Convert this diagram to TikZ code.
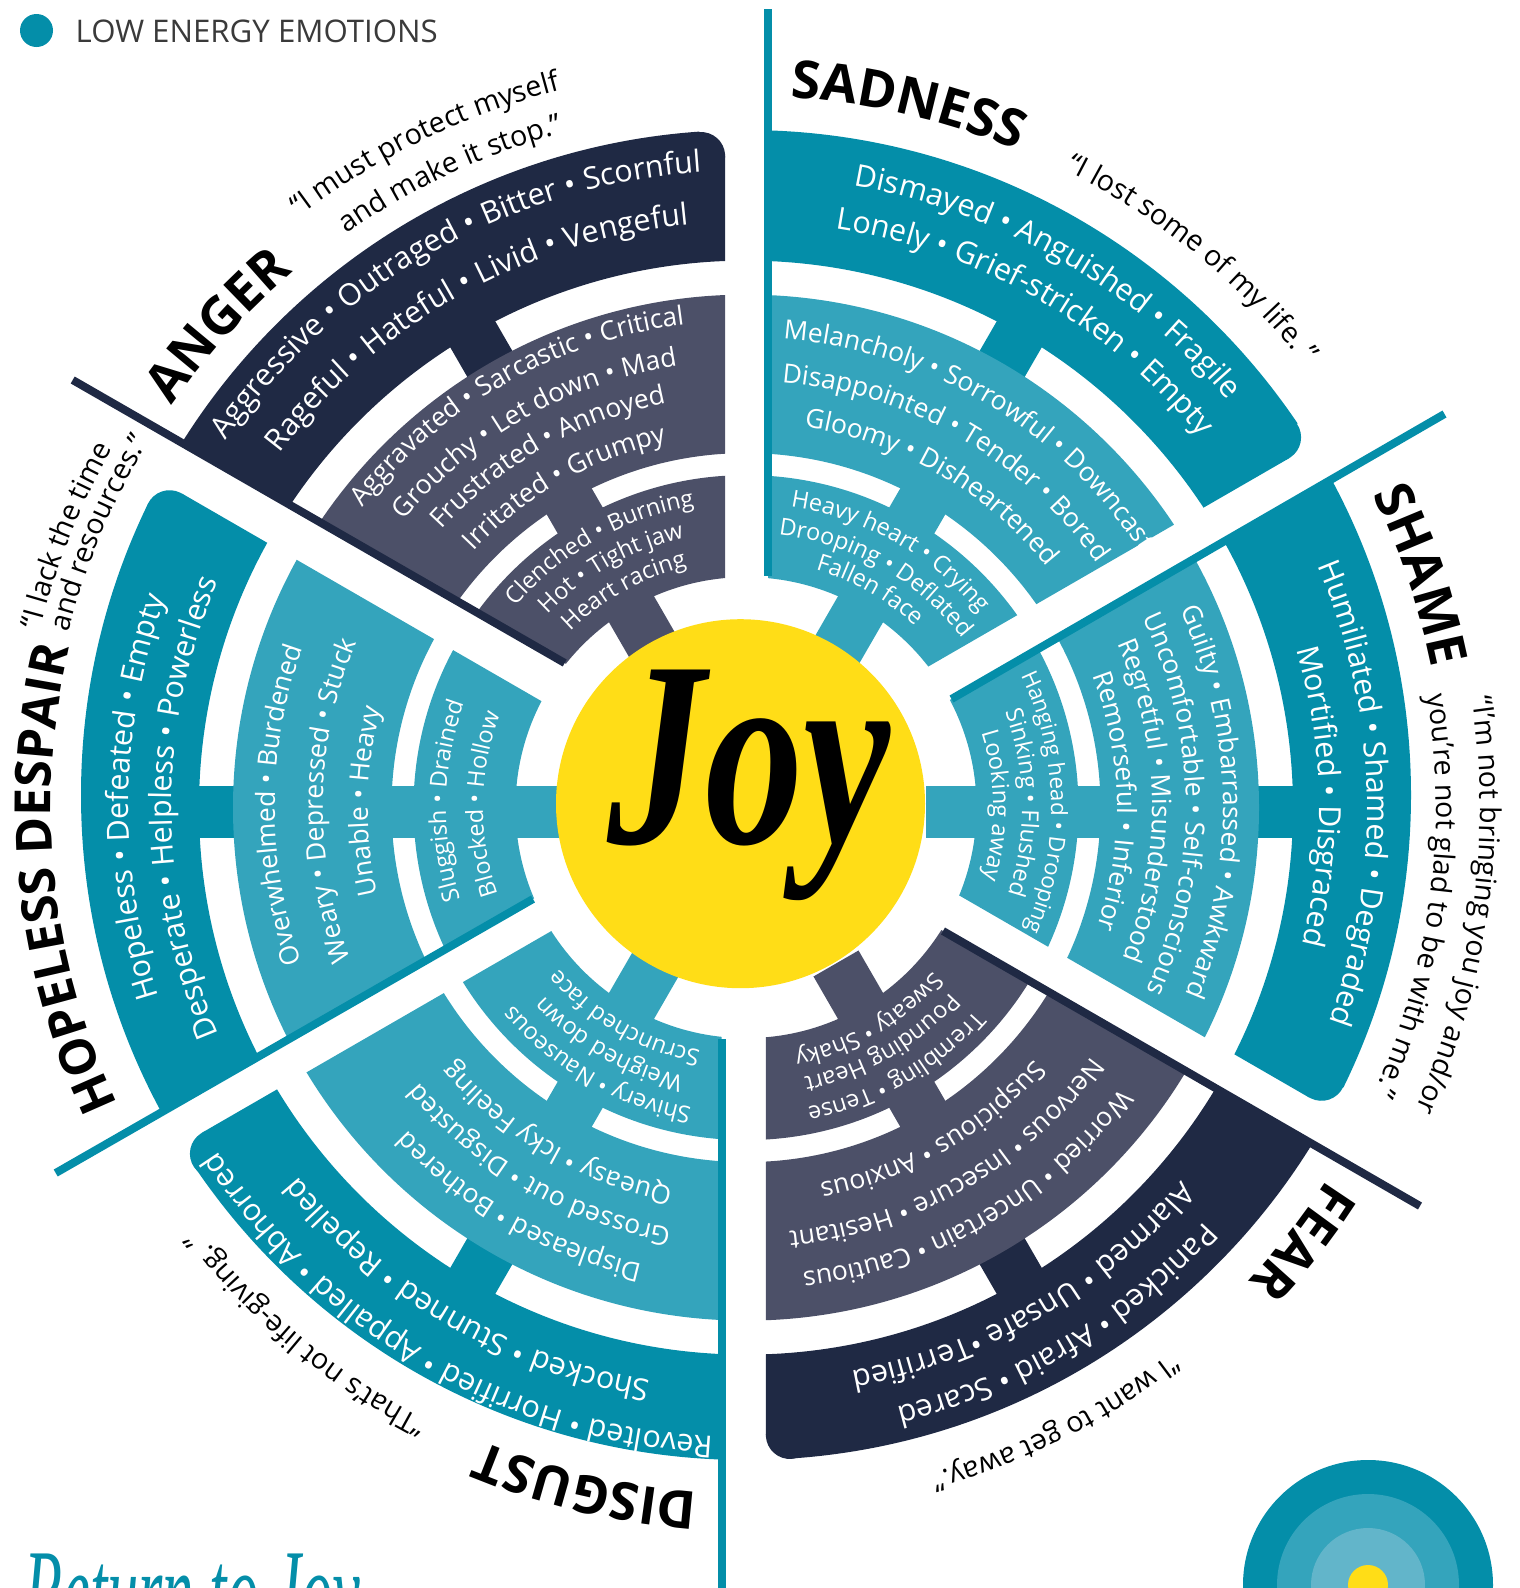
\documentclass[tikz,border=0pt]{standalone}
\usepackage{fontspec}
\setmainfont{Open Sans}
\newfontfamily\joyfont{Liberation Serif}
\usetikzlibrary{decorations.text,calc}
\definecolor{tealD}{HTML}{048EA9}
\definecolor{tealL}{HTML}{34A4BC}
\definecolor{navyD}{HTML}{1F2944}
\definecolor{navyL}{HTML}{4C5068}
\definecolor{joyY}{HTML}{FFDD17}
\definecolor{tealP}{HTML}{62B5CA}
\definecolor{legendtxt}{HTML}{3A3A3A}
\tikzset{
  sepline/.style={line width=8pt},
  legendnode/.style={inner sep=0pt,anchor=base west,text=legendtxt,font=\fontsize{31.2}{31.2}\selectfont},
}
\newcommand{\atxt}[4]{%
  \path[decorate,decoration={text along path,text align=center,
    text={|#3|#4}}]
    ($(746,-807.6)+(#2+70:#1)$) arc[start angle=#2+70,end angle=#2-70,radius=#1];}
\newcommand{\tO}[3]{\atxt{#1}{#2}{\fontsize{30.5}{30.5}\selectfont\color{white}}{#3}}
\newcommand{\tM}[3]{\atxt{#1}{#2}{\fontsize{26.5}{26.5}\selectfont\color{white}}{#3}}
\newcommand{\tI}[3]{\atxt{#1}{#2}{\fontsize{23.5}{23.5}\selectfont\color{white}}{#3}}
\newcommand{\tIs}[3]{\atxt{#1}{#2}{\fontsize{22.4}{22.4}\selectfont\color{white}}{#3}}
\newcommand{\tQ}[3]{\atxt{#1}{#2}{\fontsize{28.6}{28.6}\selectfont\color{black}}{#3}}
\newcommand{\tT}[3]{\atxt{#1}{#2}{\fontsize{52.5}{52.5}\selectfont\bfseries\color{black}}{#3}}
\newcommand{\tTs}[3]{\atxt{#1}{#2}{\fontsize{49.8}{49.8}\selectfont\bfseries\color{black}}{#3}}
% k, eL, mid, dark, light, spoke offset
\newcommand{\sector}[6]{%
\begin{scope}
  \clip[shift={(745.5,-795.5)},rotate={-60*#1}]
    (#2,1000) -- ({#2},{17.58+0.5774*(#2+10.15)}) -- (856,517.6) -- (856,1000) -- cycle;
  \fill[#4,even odd rule] (746,-795) circle (665) (746,-807.6) circle (547);
  \fill[#4,shift={(746,-807.6)},rotate=#3] (500,{-26+#6}) rectangle (560,{26+#6});
  \fill[#5,even odd rule] (746,-807.6) circle (513) (746,-807.6) circle (354.5);
  \fill[#5,shift={(746,-807.6)},rotate=#3] (180,{-26+#6}) rectangle (360,{26+#6});
  \fill[#5,even odd rule] (746,-807.6) circle (332.5) (746,-807.6) circle (230.5);
\end{scope}
\begin{scope}[shift={(745.5,-795.5)},rotate={-60*#1}]
  \fill[white] (33.97:641) -- (33.97:672) -- (28:672) -- (543.6,337.3) -- cycle;
  \fill[#4] (33.97:641) circle (24);
\end{scope}}
\begin{document}
\begin{tikzpicture}[x=1pt,y=1pt]
\useasboundingbox (0,0) rectangle (1520,-1588);
\clip (0,0) rectangle (1520,-1588);
% sectors
\sector{0}{22.5}{60}{tealD}{tealL}{0}
\sector{1}{19.4}{0}{tealD}{tealL}{-4}
\sector{2}{18.6}{-60}{navyD}{navyL}{0}
\sector{3}{24}{-120}{tealD}{tealL}{0}
\sector{4}{16.6}{180}{tealD}{tealL}{4}
\sector{5}{24.3}{120}{navyD}{navyL}{0}
% separator lines
\draw[sepline,tealD] (768,-9) -- (768,-576);
\draw[sepline,tealD] (1444.5,-414) -- (951.5,-699);
\draw[sepline,navyD] (1420,-1206) -- (943,-931);
\draw[sepline,tealD] (721.5,-1039) -- (721.5,-1600);
\draw[sepline,tealD] (533,-899) -- (55.7,-1173);
\draw[sepline,navyD] (72.7,-380) -- (564.7,-663);
% joy
\fill[joyY] (740.5,-803.7) circle (184.5);
\node[inner sep=0pt,anchor=base] (joy) at (749,-843) {\scalebox{.74}[1]{\joyfont\fontsize{265}{265}\selectfont\bfseries\itshape Joy}};
% Sadness
\tO{631}{60.2}{Dismayed • Anguished • Fragile}
\tO{586}{60.2}{Lonely • Grief-stricken • Empty}
\begin{scope}
  \clip[shift={(745.5,-795.5)},rotate=0]
    (22.5,1000) -- (22.5,36.4) -- (856,517.6) -- (856,1000) -- cycle;
  \tM{470}{59.2}{Melancholy • Sorrowful • Downcast}
\end{scope}
\tM{427}{60}{Disappointed • Tender • Bored}
\tM{385}{60}{Gloomy • Disheartened}
\tI{304}{60.6}{Heavy heart • Crying}
\tI{275}{60.6}{Drooping • Deflated}
\tI{248}{60.3}{Fallen face}
% Shame
\tO{621}{1.4}{Humiliated • Shamed • Degraded}
\tO{573}{1.1}{Mortified • Disgraced}
\tM{477}{0.7}{Guilty • Embarrassed • Awkward}
\tM{440}{0.5}{Uncomfortable • Self-conscious}
\tM{406}{1}{Regretful • Misunderstood}
\tM{371}{1}{Remorseful • Inferior}
\tIs{305}{1}{Hanging head • Drooping}
\tI{276}{1}{Sinking • Flushed}
\tI{247}{0.5}{Looking away}
% Fear
\tO{618}{-59}{Panicked • Afraid • Scared}
\tO{573}{-60}{Alarmed • Unsafe •Terrified}
\tM{468}{-60}{Worried • Uncertain • Cautious}
\tM{426}{-60}{Nervous • Insecure • Hesitant}
\tM{383}{-60}{Suspicious • Anxious}
\tI{306}{-60}{Trembling • Tense}
\tI{276}{-60}{Pounding Heart}
\tI{249}{-60}{Sweaty • Shaky}
% Disgust
\tO{630}{-120}{Revolted • Horrified • Appalled • Abhorred}
\tO{581}{-120}{Shocked • Stunned • Repelled}
\tM{468}{-119.6}{Displeased • Bothered}
\tM{427}{-120}{Grossed out • Disgusted}
\tM{387}{-120}{Queasy • Icky Feeling}
\tI{305}{-120}{Shivery • Nauseous}
\tI{276}{-120}{Weighed down}
\tI{247}{-120}{Scrunched face}
% Hopeless
\tO{617}{179}{Hopeless • Defeated • Empty}
\tO{574}{180}{Desperate • Helpless • Powerless}
\tM{471}{179.7}{Overwhelmed • Burdened}
\tM{423}{179}{Weary • Depressed • Stuck}
\tM{378}{179}{Unable • Heavy}
\tI{300}{178.7}{Sluggish • Drained}
\tI{263}{179.2}{Blocked • Hollow}
% Anger
\tO{637}{119.4}{Aggressive • Outraged • Bitter • Scornful}
\tO{586}{119.2}{Rageful • Hateful • Livid • Vengeful}
\tM{487}{119.6}{Aggravated • Sarcastic • Critical}
\tM{447}{119.4}{Grouchy • Let down • Mad}
\tM{412}{119.4}{Frustrated • Annoyed}
\tM{374}{119.5}{Irritated • Grumpy}
\tI{306}{119.3}{Clenched • Burning}
\tI{277}{119.3}{Hot • Tight jaw}
\tI{248}{119.3}{Heart racing}
% Titles
\tT{711}{77}{SADNESS}
\tT{700}{19}{SHAME}
\tT{690}{-38}{FEAR}
\tT{686}{-103.3}{DISGUST}
\tTs{695}{186}{HOPELESS DESPAIR}
\tT{701}{137.6}{ANGER}
% Quotes
\tQ{713}{50.9}{“I lost some of my life. ”}
\tQ{741}{115.8}{“I must protect myself}
\tQ{699}{115}{and make it stop.”}
\tQ{728}{158.2}{“I lack the time}
\tQ{700}{157}{and resources.”}
\tQ{734}{-7.8}{“I'm not bringing you joy and/or}
\tQ{690}{-7.5}{you're not glad to be with me.”}
\tQ{691}{-63.3}{“I want to get away.”}
\tQ{691}{-129.9}{“That's not life-giving. ”}
% legend
\fill[tealD] (36.5,-30.5) circle (16.5);
\node[legendnode] (legend) at (75.5,-42) {LOW ENERGY EMOTIONS};
% return to joy
\node[inner sep=0pt,anchor=base west,text=tealD] (ret) at (24,-1632) {\scalebox{.52}[1]{\joyfont\fontsize{120}{120}\selectfont\itshape Return to Joy}};
% target
\fill[tealD] (1368,-1585) circle (125);
\fill[tealL] (1368,-1585) circle (91);
\fill[tealP] (1368,-1585) circle (57);
\fill[joyY] (1368,-1585) circle (20);
\end{tikzpicture}
\end{document}
